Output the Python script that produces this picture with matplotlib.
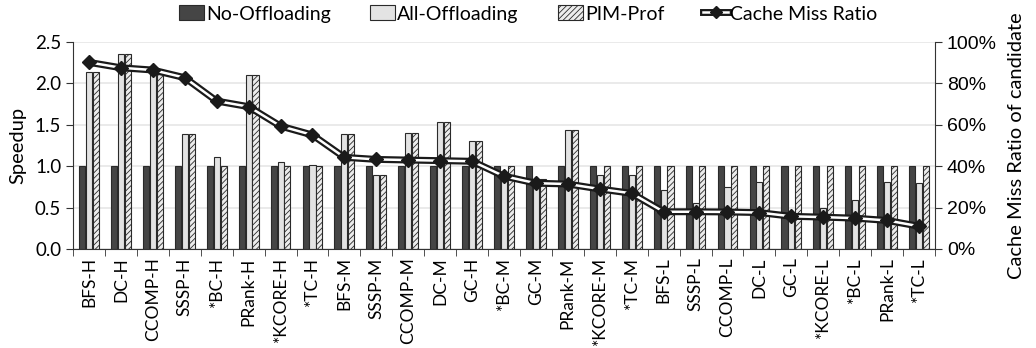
import numpy as np
import matplotlib
matplotlib.use("Agg")
import matplotlib.pyplot as plt
from matplotlib.lines import Line2D
from matplotlib.patches import Patch
from matplotlib.legend_handler import HandlerTuple
from matplotlib.ticker import FixedLocator, PercentFormatter

plt.rcParams['font.family'] = ['Lato', 'DejaVu Sans']
plt.rcParams['hatch.color'] = '#8a8a8a'
plt.rcParams['hatch.linewidth'] = 0.6

# benchmarks, sorted by cache miss ratio
names = ["BFS-H", "DC-H", "CCOMP-H", "SSSP-H", "*BC-H", "PRank-H", "*KCORE-H",
         "*TC-H", "BFS-M", "SSSP-M", "CCOMP-M", "DC-M", "GC-H", "*BC-M", "GC-M",
         "PRank-M", "*KCORE-M", "*TC-M", "BFS-L", "SSSP-L", "CCOMP-L", "DC-L",
         "GC-L", "*KCORE-L", "*BC-L", "PRank-L", "*TC-L"]

no_off = [1.0] * 27
all_off = [2.14, 2.36, 2.16, 1.385, 1.107, 2.10, 1.047, 1.01, 1.385, 0.894,
           1.405, 1.54, 1.31, 0.92, 0.845, 1.437, 0.90, 0.898, 0.716, 0.55,
           0.745, 0.81, 0.45, 0.50, 0.59, 0.81, 0.80]
pim_prof = [2.14, 2.36, 2.16, 1.385, 1.0, 2.10, 1.0, 1.0, 1.385, 0.894,
            1.405, 1.54, 1.31, 1.0, 0.845, 1.437, 1.0, 1.0, 1.0, 1.0,
            1.0, 1.0, 1.0, 1.0, 1.0, 1.0, 1.0]
miss = [90.2, 87.6, 86.5, 82.8, 71.5, 68.8, 59.4, 55.1, 44.3, 43.3,
        43.0, 42.7, 42.4, 35.2, 31.8, 31.4, 29.0, 26.9, 18.0, 18.0,
        17.9, 17.6, 15.8, 15.4, 14.9, 13.8, 11.0]

x = np.arange(len(names))
w = 0.19

fig = plt.figure(figsize=(10.36, 3.48), dpi=100)
ax = fig.add_axes([0.0705, 0.2845, 0.832, 0.5945])

ec = '#2a2a2a'
ax.bar(x - 0.215, no_off, w, color='#454545', edgecolor=ec, linewidth=0.8, zorder=2)
ax.bar(x, all_off, w, color='#e3e3e3', edgecolor=ec, linewidth=0.8, zorder=2)
ax.bar(x + 0.215, pim_prof, w, color='#ececec', edgecolor=ec, linewidth=0.8,
       hatch='//////', zorder=2)

ax.set_xlim(-0.5, len(names) - 0.5)
ax.set_ylim(0, 2.5)
ax.set_yticks(np.arange(0, 2.51, 0.5))
ax.set_yticklabels([f"{v:.1f}" for v in np.arange(0, 2.51, 0.5)], fontsize=13.5)
ax.set_ylabel("Speedup", fontsize=14.5, labelpad=6)
ax.grid(axis='y', color='#e6e6e6', linewidth=1.2, zorder=0)
ax.set_axisbelow(True)

ax.set_xticks(x)
ax.set_xticklabels(names, rotation=90, fontsize=12.5)
ax.tick_params(axis='x', length=0, pad=6)
ax.xaxis.set_minor_locator(FixedLocator(np.arange(-0.5, len(names), 1.0)))
ax.tick_params(axis='x', which='minor', length=5, direction='out', color='#333333')
ax.tick_params(axis='y', length=5, color='#333333')
for s in ['top', 'right']:
    ax.spines[s].set_visible(False)
ax.spines['left'].set_color('#333333')
ax.spines['bottom'].set_color('#333333')

ax2 = ax.twinx()
ax2.set_ylim(0, 100)
ax2.plot(x, miss, color='#1a1a1a', linewidth=5.0, zorder=3, solid_joinstyle='miter')
ax2.plot(x, miss, color='white', linewidth=1.8, zorder=4)
ax2.plot(x, miss, linestyle='none', marker='D', markersize=7,
         color='#1a1a1a', zorder=5)
ax2.yaxis.set_major_formatter(PercentFormatter(decimals=0))
ax2.set_yticks(np.arange(0, 101, 20))
for lab in ax2.get_yticklabels():
    lab.set_family('Liberation Sans')
ax2.tick_params(axis='y', labelsize=14, length=5, color='#333333')
ax2.set_ylabel("Cache Miss Ratio of candidate", fontsize=14.5, labelpad=8)
for s in ['top', 'left', 'bottom']:
    ax2.spines[s].set_visible(False)
ax2.spines['right'].set_color('#333333')

h_no = Patch(facecolor='#454545', edgecolor=ec, linewidth=0.8)
h_all = Patch(facecolor='#e3e3e3', edgecolor=ec, linewidth=0.8)
h_pim = Patch(facecolor='#ececec', edgecolor=ec, linewidth=0.8, hatch='//////')
h_line = (Line2D([], [], color='#1a1a1a', linewidth=5.0),
          Line2D([], [], color='white', linewidth=1.8, marker='D', markersize=6.5,
                 markerfacecolor='#1a1a1a', markeredgecolor='#1a1a1a'))
fig.legend([h_no, h_all, h_pim, h_line],
           ["No-Offloading", "All-Offloading", "PIM-Prof", "Cache Miss Ratio"],
           handler_map={tuple: HandlerTuple(ndivide=1, pad=0)},
           loc='upper center', bbox_to_anchor=(0.51, 1.035), ncol=4, frameon=False,
           fontsize=14, handlelength=1.3, handleheight=0.8, handletextpad=0.1,
           columnspacing=2.0, numpoints=1)

fig.savefig("out.png", dpi=100)
